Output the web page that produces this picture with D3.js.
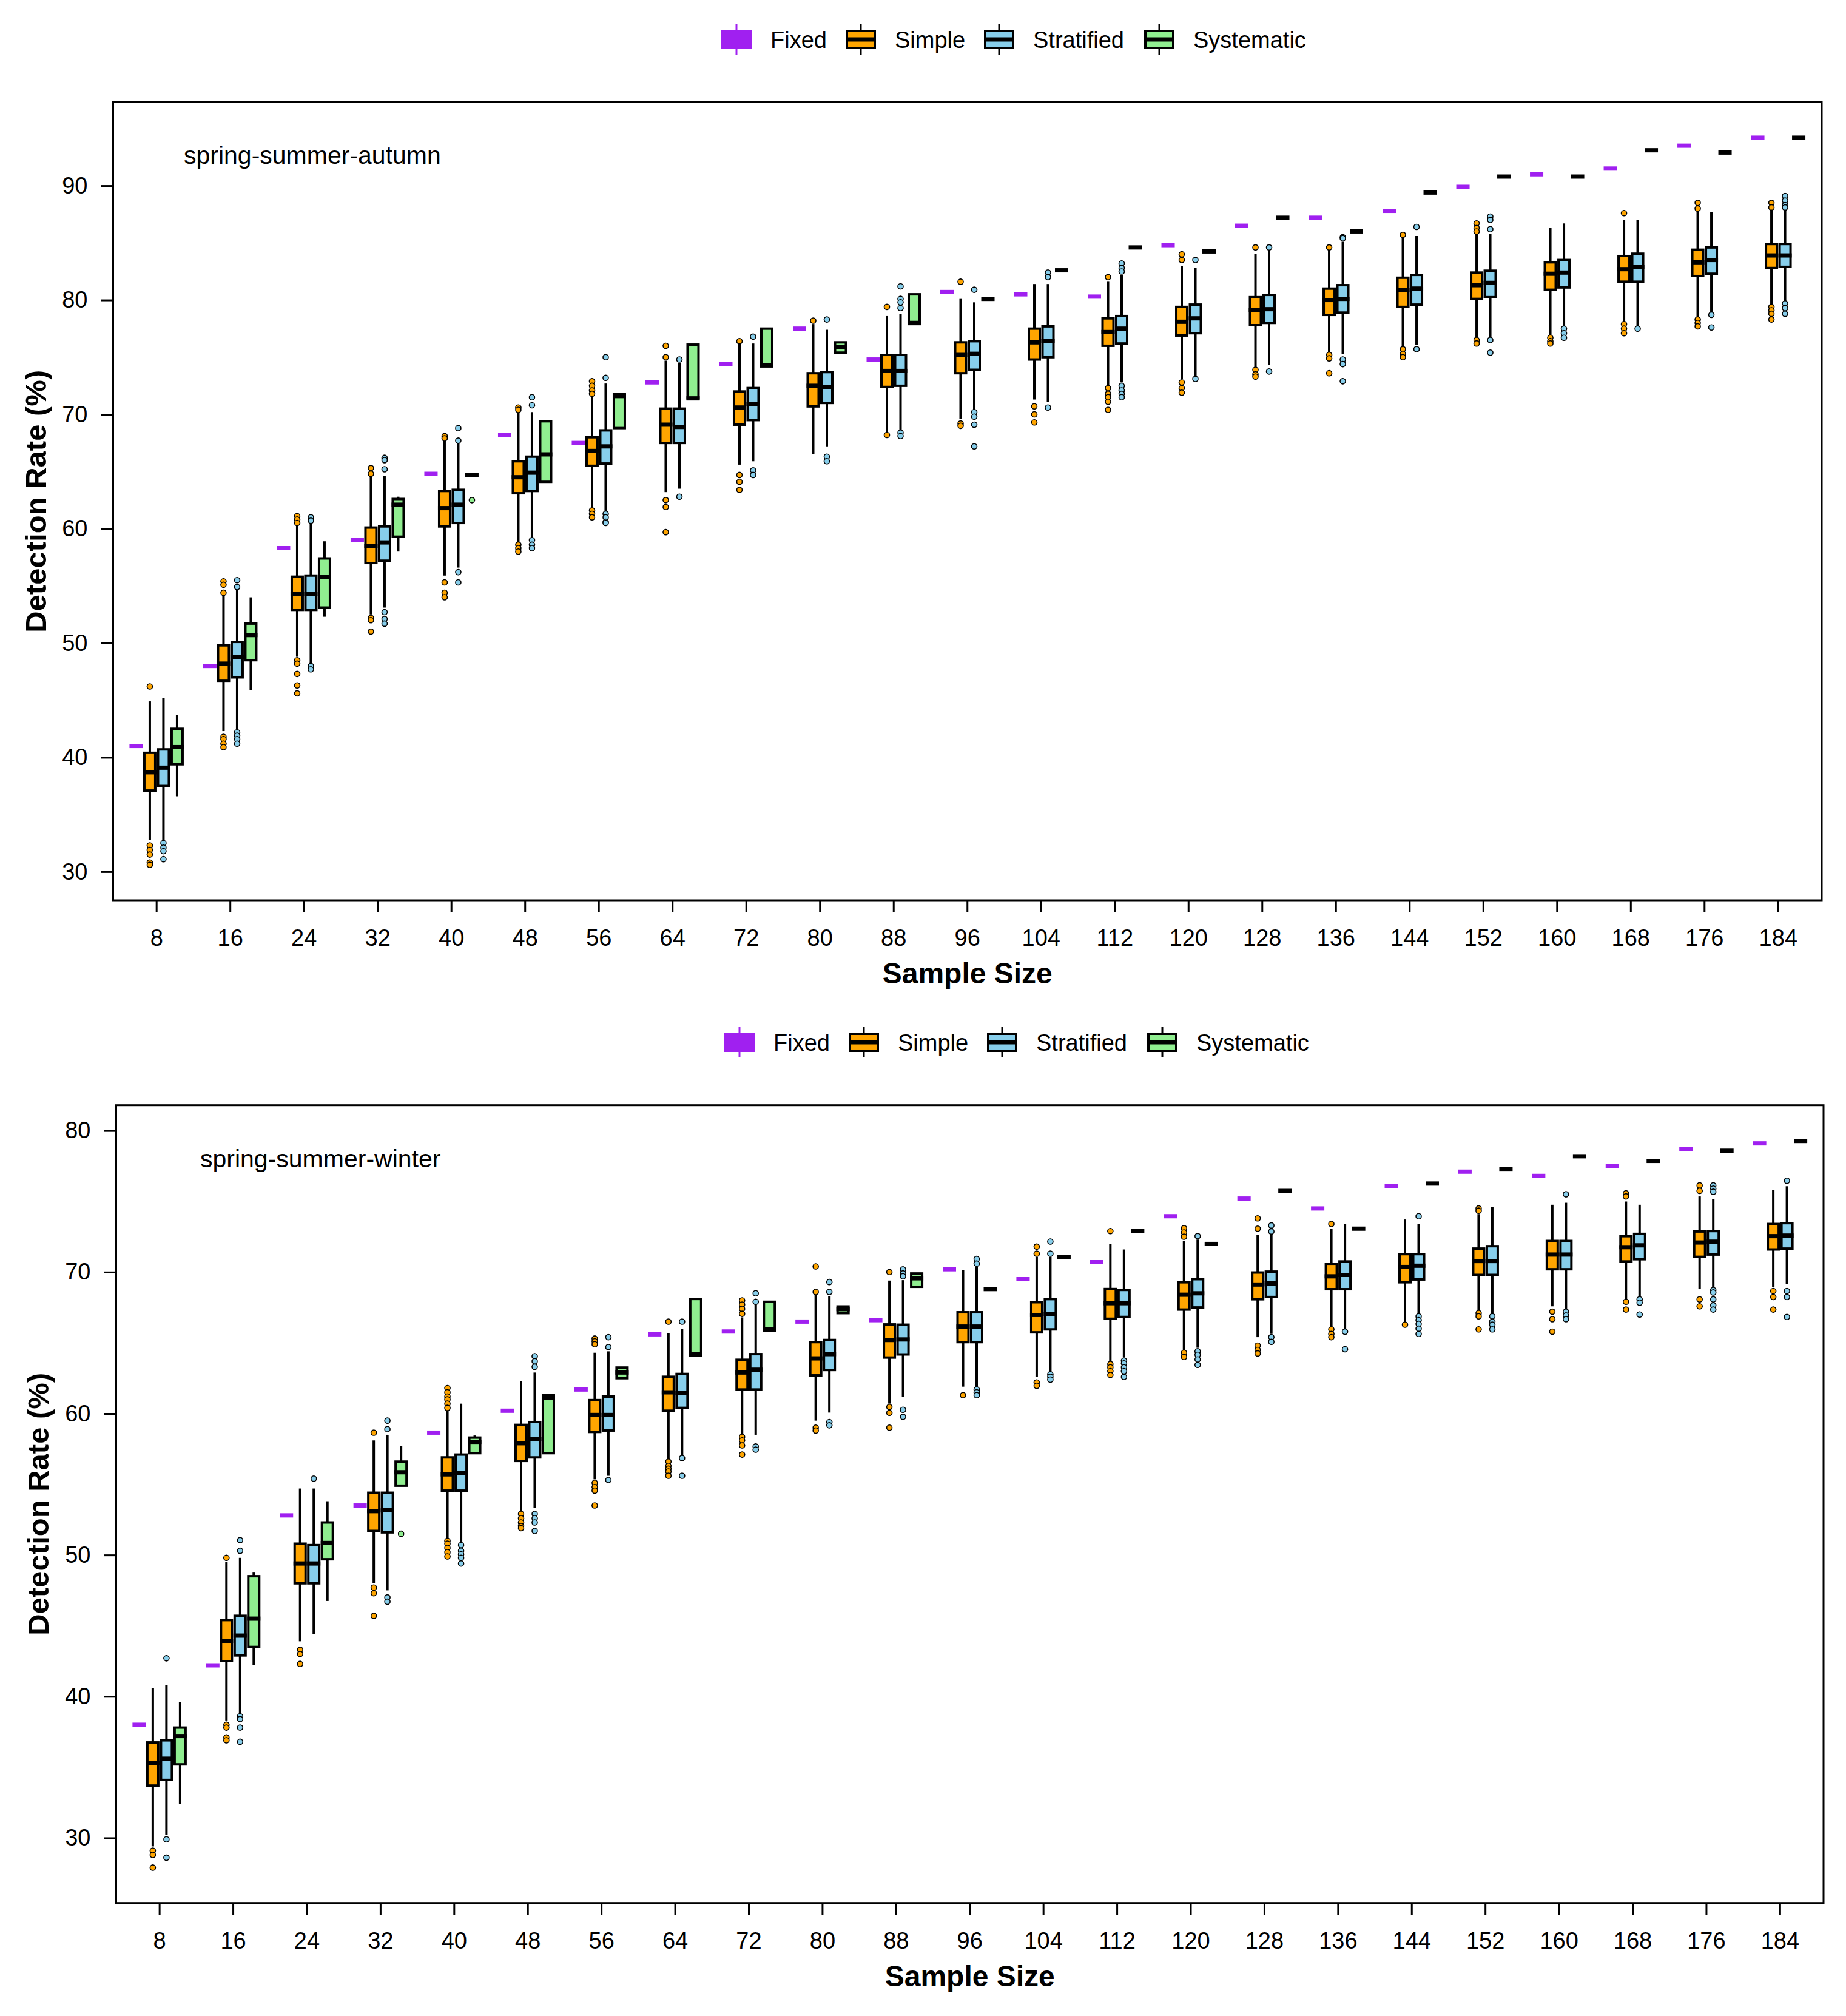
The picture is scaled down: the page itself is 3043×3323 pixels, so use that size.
<!DOCTYPE html>
<html>
<head>
<meta charset="utf-8">
<script src="https://cdn.jsdelivr.net/npm/d3@7"></script>
<style>
  html, body { margin: 0; padding: 0; background: #fff; }
  svg { display: block; font-family: "Liberation Sans", Arial, Helvetica, sans-serif; }
</style>
</head>
<body>
<svg id="chart" width="3043" height="3323"></svg>
<script>
'use strict';

// ---- categories ----
var sampleSizes = [8, 16, 24, 32, 40, 48, 56, 64, 72, 80, 88, 96, 104, 112, 120, 128, 136, 144, 152, 160, 168, 176, 184];
var methods = ['Fixed', 'Simple', 'Stratified', 'Systematic'];
var yTicksAutumn = [30, 40, 50, 60, 70, 80, 90];
var yTicksWinter = [30, 40, 50, 60, 70, 80];

// ---- spring-summer-autumn ----
var autumnFixed = [41.0, 48.0, 58.3, 59.0, 64.8, 68.2, 67.5, 72.8, 74.4, 77.5, 74.8, 80.7, 80.5, 80.3, 84.8, 86.5, 87.2, 87.8, 89.9, 91.0, 91.5, 93.5, 94.2];

// [lower whisker, q1, median, q3, upper whisker]
var autumnSimple = [
  [32.8, 37.1, 38.7, 40.4, 44.9], [42.3, 46.7, 48.2, 49.8, 54.2], [48.8, 52.9, 54.3, 55.8, 60.3],
  [52.5, 57.0, 58.5, 60.1, 64.6], [55.9, 60.2, 61.8, 63.3, 67.7], [58.8, 63.1, 64.5, 65.9, 70.2],
  [61.8, 65.5, 66.8, 68.0, 71.6], [63.2, 67.5, 69.1, 70.5, 74.7], [65.6, 69.1, 70.6, 72.0, 76.2],
  [66.5, 70.7, 72.5, 73.6, 77.9], [68.4, 72.4, 73.8, 75.2, 78.6], [69.6, 73.6, 75.2, 76.3, 80.1],
  [71.3, 74.8, 76.3, 77.5, 81.4], [72.5, 76.0, 77.2, 78.4, 81.6], [73.1, 76.9, 78.1, 79.4, 83.0],
  [74.1, 77.8, 79.1, 80.25, 84.05], [75.4, 78.7, 80.0, 81.0, 84.4], [75.9, 79.4, 80.9, 81.95, 85.4],
  [76.7, 80.1, 81.3, 82.4, 85.8], [76.9, 80.9, 82.3, 83.3, 86.3], [78.0, 81.6, 82.7, 83.85, 87.0],
  [78.5, 82.1, 83.3, 84.4, 87.8], [79.6, 82.8, 83.9, 84.9, 87.9]
];
var autumnSimpleOut = [
  [46.2, 32.3, 31.9, 31.5, 30.8, 30.6], [55.4, 55.1, 54.4, 41.8, 41.6, 41.2, 40.9], [61.1, 60.8, 60.5, 48.5, 48.2, 47.3, 46.3, 45.6],
  [65.3, 64.8, 52.2, 52.0, 51.0], [68.1, 67.9, 55.3, 54.4, 54.0], [70.6, 70.4, 58.6, 58.3, 58.0],
  [72.9, 72.5, 72.1, 71.8, 61.6, 61.3, 61.0], [76.0, 75.0, 62.5, 61.9, 59.7], [76.4, 64.7, 64.1, 63.4],
  [78.2], [79.4, 68.2], [81.6, 69.2, 69.0],
  [70.7, 70.0, 69.3], [82.0, 72.3, 71.8, 71.5, 71.1, 70.4], [84.0, 83.5, 72.8, 72.3, 71.9],
  [84.6, 73.9, 73.5, 73.3], [84.6, 75.2, 74.9, 73.6], [85.7, 75.7, 75.3, 75.0],
  [86.7, 86.3, 86.0, 76.5, 76.2], [76.7, 76.4, 76.2], [87.6, 77.9, 77.5, 77.1],
  [88.5, 88.0, 78.3, 78.0, 77.7], [88.5, 88.1, 79.4, 79.1, 78.8, 78.3]
];
var autumnStratified = [
  [32.8, 37.5, 39.1, 40.7, 45.2], [42.5, 47.0, 48.8, 50.1, 54.7], [48.2, 52.9, 54.3, 55.9, 60.4],
  [53.1, 57.2, 58.8, 60.2, 64.6], [56.6, 60.5, 62.1, 63.4, 67.5], [59.2, 63.3, 64.9, 66.3, 70.2],
  [61.5, 65.7, 67.2, 68.6, 72.7], [63.5, 67.5, 68.9, 70.5, 74.5], [65.9, 69.5, 70.9, 72.3, 76.2],
  [67.2, 71.0, 72.4, 73.7, 77.4], [68.6, 72.5, 73.8, 75.2, 78.8], [70.4, 73.9, 75.3, 76.4, 79.8],
  [71.1, 75.0, 76.4, 77.7, 81.4], [72.8, 76.2, 77.5, 78.6, 82.2], [73.3, 77.1, 78.4, 79.6, 82.8],
  [74.3, 78.0, 79.2, 80.45, 84.4], [75.3, 78.9, 80.1, 81.3, 85.1], [76.1, 79.6, 81.0, 82.2, 85.6],
  [76.7, 80.25, 81.5, 82.56, 85.8], [77.7, 81.1, 82.4, 83.5, 86.7], [77.6, 81.6, 82.9, 84.05, 87.0],
  [78.9, 82.3, 83.5, 84.6, 87.7], [79.8, 82.9, 83.9, 84.9, 87.9]
];
var autumnStratifiedOut = [
  [32.5, 32.1, 31.8, 31.1], [55.5, 54.9, 42.2, 41.9, 41.6, 41.2], [61.0, 60.7, 48.0, 47.7],
  [66.2, 66.0, 65.2, 52.7, 52.1, 51.7], [68.8, 67.7, 56.2, 55.3], [71.5, 70.8, 59.0, 58.6, 58.3],
  [75.0, 73.2, 61.3, 61.0, 60.6, 60.5], [74.8, 62.8], [76.8, 65.1, 64.7],
  [78.3, 66.3, 65.9], [81.2, 80.1, 79.8, 79.3, 68.4, 68.1], [80.9, 70.2, 69.8, 69.1, 67.2],
  [82.4, 82.0, 70.6], [83.2, 82.8, 82.5, 72.5, 72.1, 71.8, 71.5], [83.5, 73.1],
  [84.6, 73.75], [85.5, 85.4, 74.8, 74.4, 72.9], [86.4, 75.7],
  [87.3, 87.0, 86.2, 76.5, 75.4], [77.5, 77.1, 76.7], [77.5],
  [78.7, 77.6], [89.1, 88.7, 88.3, 88.1, 79.7, 79.3, 78.8]
];
var autumnSystematic = [
  [36.6, 39.4, 40.9, 42.5, 43.7], [45.9, 48.5, 50.7, 51.7, 54.0], [52.3, 53.1, 55.8, 57.4, 58.9],
  [58.0, 59.3, 62.1, 62.6, 62.8], [64.7, 64.7, 64.7, 64.7, 64.7], [64.1, 64.1, 66.5, 69.4, 69.4],
  [68.8, 68.8, 71.6, 71.8, 71.8], [71.4, 71.4, 71.4, 76.1, 76.1], [74.2, 74.2, 74.3, 77.5, 77.5],
  [75.4, 75.4, 75.9, 76.3, 76.3], [77.9, 77.9, 78.0, 80.5, 80.5], [80.1, 80.1, 80.1, 80.1, 80.1],
  [82.6, 82.6, 82.6, 82.6, 82.6], [84.6, 84.6, 84.6, 84.6, 84.6], [84.25, 84.25, 84.25, 84.25, 84.25],
  [87.2, 87.2, 87.2, 87.2, 87.2], [86.0, 86.0, 86.0, 86.0, 86.0], [89.4, 89.4, 89.4, 89.4, 89.4],
  [90.8, 90.8, 90.8, 90.8, 90.8], [90.8, 90.8, 90.8, 90.8, 90.8], [93.1, 93.1, 93.1, 93.1, 93.1],
  [92.9, 92.9, 92.9, 92.9, 92.9], [94.2, 94.2, 94.2, 94.2, 94.2]
];
var autumnSystematicOut = [[], [], [], [], [62.5], [], [], [], [], [], [], [], [], [], [], [], [], [], [], [], [], [], []];

// ---- spring-summer-winter ----
var winterFixed = [38.0, 42.2, 52.8, 53.5, 58.65, 60.2, 61.7, 65.6, 65.8, 66.5, 66.6, 70.2, 69.5, 70.7, 73.95, 75.2, 74.5, 76.1, 77.1, 76.8, 77.5, 78.7, 79.1];

var winterSimple = [
  [29.4, 33.7, 35.3, 36.75, 40.6], [38.3, 42.5, 43.9, 45.4, 49.5], [43.9, 48.0, 49.4, 50.8, 54.7],
  [48.0, 51.7, 53.1, 54.4, 58.1], [51.2, 54.55, 55.7, 56.9, 60.2], [53.05, 56.65, 57.9, 59.2, 62.3],
  [55.35, 58.7, 59.9, 60.95, 64.3], [56.7, 60.2, 61.5, 62.6, 65.7], [58.5, 61.7, 62.9, 63.8, 66.8],
  [59.5, 62.7, 63.9, 65.05, 68.4], [60.7, 63.96, 65.2, 66.3, 69.4], [61.9, 65.05, 66.15, 67.16, 70.16],
  [62.6, 65.74, 66.97, 67.87, 71.07], [63.7, 66.7, 67.8, 68.8, 71.97], [64.5, 67.35, 68.4, 69.28, 72.2],
  [65.4, 68.08, 69.12, 69.97, 72.64], [66.05, 68.79, 69.7, 70.59, 73.07], [66.44, 69.28, 70.36, 71.27, 73.72],
  [67.26, 69.8, 70.78, 71.66, 74.1], [67.58, 70.2, 71.24, 72.2, 74.76], [68.07, 70.75, 71.76, 72.54, 74.99],
  [68.79, 71.08, 72.09, 72.87, 75.35], [68.95, 71.6, 72.54, 73.4, 75.8]
];
var winterSimpleOut = [
  [29.1, 28.8, 27.9], [49.8, 38.0, 37.8, 37.1, 36.9], [43.3, 43.0, 42.3],
  [58.65, 47.7, 47.3, 45.7], [61.8, 61.5, 61.2, 61.0, 60.7, 60.4, 51.0, 50.8, 50.5, 50.2, 49.9], [52.9, 52.6, 52.3, 52.05, 51.9],
  [65.3, 65.1, 64.9, 55.1, 54.8, 54.55, 53.5], [66.5, 56.6, 56.3, 56.1, 55.9, 55.6], [68.0, 67.7, 67.4, 67.05, 58.35, 58.1, 57.75, 57.1],
  [70.4, 68.6, 59.0, 58.8], [70.0, 60.46, 60.05, 59.0], [61.3],
  [71.8, 71.3, 62.2, 61.96], [72.9, 63.5, 63.27, 63.0, 62.73], [73.1, 72.8, 72.5, 64.3, 64.0],
  [73.8, 73.07, 64.8, 64.5, 64.25], [73.4, 65.95, 65.63, 65.4], [66.28],
  [74.5, 74.34, 67.1, 66.87, 65.95], [67.2, 66.67, 65.79], [75.57, 75.35, 67.9, 67.35],
  [76.13, 75.74, 68.07, 67.58], [68.66, 68.24, 67.35]
];
var winterStratified = [
  [30.2, 34.1, 35.6, 36.9, 40.8], [38.7, 42.9, 44.3, 45.7, 49.8], [44.4, 48.0, 49.4, 50.7, 54.7],
  [47.5, 51.6, 53.2, 54.4, 58.5], [50.8, 54.55, 55.8, 57.1, 60.7], [53.35, 56.9, 58.2, 59.4, 62.9],
  [55.6, 58.8, 59.9, 61.2, 64.4], [57.0, 60.4, 61.44, 62.8, 66.0], [58.5, 61.7, 63.1, 64.2, 67.7],
  [60.07, 63.08, 64.2, 65.2, 68.3], [61.2, 64.18, 65.24, 66.28, 69.43], [61.85, 65.05, 66.15, 67.16, 70.38],
  [63.0, 65.95, 67.02, 68.09, 71.07], [63.96, 66.83, 67.8, 68.74, 71.6], [64.65, 67.5, 68.5, 69.5, 72.3],
  [65.63, 68.24, 69.2, 70.03, 72.64], [65.95, 68.79, 69.8, 70.75, 73.4], [67.0, 69.48, 70.45, 71.27, 73.4],
  [67.0, 69.8, 70.78, 71.83, 74.6], [67.42, 70.2, 71.24, 72.2, 74.9], [68.24, 70.91, 71.89, 72.7, 74.76],
  [68.95, 71.24, 72.15, 72.9, 75.15], [69.15, 71.66, 72.58, 73.46, 76.07]
];
var winterStratifiedOut = [
  [42.7, 29.9, 28.6], [51.05, 50.3, 38.6, 38.4, 37.8, 36.8], [55.4],
  [59.5, 58.9, 47.0, 46.7], [50.7, 50.3, 50.05, 49.8, 49.4], [64.05, 63.7, 63.3, 52.9, 52.6, 52.3, 51.7],
  [65.4, 64.7, 55.3], [66.5, 56.85, 55.6], [68.5, 67.9, 57.67, 57.45],
  [69.3, 68.6, 59.4, 59.17], [70.19, 69.9, 69.7, 60.27, 59.77], [70.93, 70.6, 61.7, 61.5, 61.3],
  [72.16, 71.3, 62.78, 62.6, 62.4], [63.74, 63.55, 63.27, 63.0, 62.59], [72.54, 64.4, 64.16, 63.83, 63.44],
  [73.3, 72.87, 65.4, 65.07], [65.79, 64.55], [73.95, 66.87, 66.6, 66.34, 66.0, 65.63],
  [66.87, 66.5, 66.28, 65.95], [75.5, 67.2, 66.93, 66.67], [68.07, 67.84, 67.0],
  [76.13, 75.9, 75.68, 68.73, 68.56, 68.07, 67.65, 67.35], [76.46, 68.66, 68.24, 66.83]
];
var winterSystematic = [
  [32.4, 35.2, 37.2, 37.8, 39.6], [42.2, 43.5, 45.5, 48.5, 48.8], [46.75, 49.7, 50.85, 52.3, 53.8],
  [54.9, 54.9, 55.85, 56.6, 57.7], [57.2, 57.2, 58.0, 58.3, 58.45], [57.2, 57.2, 61.1, 61.3, 61.3],
  [62.5, 62.5, 62.9, 63.25, 63.25], [64.1, 64.1, 64.2, 68.1, 68.1], [65.87, 65.87, 65.95, 67.9, 67.9],
  [67.1, 67.1, 67.38, 67.57, 67.57], [68.96, 68.96, 69.56, 69.9, 69.9], [68.8, 68.8, 68.8, 68.8, 68.8],
  [71.07, 71.07, 71.07, 71.07, 71.07], [72.9, 72.9, 72.9, 72.9, 72.9], [71.99, 71.99, 71.99, 71.99, 71.99],
  [75.74, 75.74, 75.74, 75.74, 75.74], [73.07, 73.07, 73.07, 73.07, 73.07], [76.26, 76.26, 76.26, 76.26, 76.26],
  [77.3, 77.3, 77.3, 77.3, 77.3], [78.19, 78.19, 78.19, 78.19, 78.19], [77.86, 77.86, 77.86, 77.86, 77.86],
  [78.58, 78.58, 78.58, 78.58, 78.58], [79.27, 79.27, 79.27, 79.27, 79.27]
];
var winterSystematicOut = [[], [], [], [51.5], [], [], [], [], [], [], [], [], [], [], [], [], [], [], [], [], [], [], []];

var fillColor = { Fixed: '#a020f0', Simple: '#ffa500', Stratified: '#87ceeb', Systematic: '#90ee90' };
var lineColor = { Fixed: '#a020f0', Simple: '#000', Stratified: '#000', Systematic: '#000' };

var svg = d3.select('#chart');

var panels = [
  {
    label: 'spring-summer-autumn', labelX: 303, labelY: 270,
    legendX: 1189, legendY: 65,
    left: 186.5, right: 3003, top: 168.5, bottom: 1484,
    yDomain: [27.5, 97.3], yTicks: yTicksAutumn, yTitleX: 76,
    fixed: autumnFixed,
    boxes: { Simple: autumnSimple, Stratified: autumnStratified, Systematic: autumnSystematic },
    outs: { Simple: autumnSimpleOut, Stratified: autumnStratifiedOut, Systematic: autumnSystematicOut }
  },
  {
    label: 'spring-summer-winter', labelX: 330, labelY: 1924,
    legendX: 1194, legendY: 1718,
    left: 191.5, right: 3006, top: 1821.7, bottom: 3136.7,
    yDomain: [25.4, 81.8], yTicks: yTicksWinter, yTitleX: 80,
    fixed: winterFixed,
    boxes: { Simple: winterSimple, Stratified: winterStratified, Systematic: winterSystematic },
    outs: { Simple: winterSimpleOut, Stratified: winterStratifiedOut, Systematic: winterSystematicOut }
  }
];

// key offsets in the legend row, as laid out in the original figure
var legendOffsets = [0, 205, 433, 697];

function drawLegend(x0, yc) {
  var g = svg.append('g').attr('class', 'legend');
  methods.forEach(function (m, i) {
    var cx = x0 + legendOffsets[i];
    var key = g.append('g').attr('transform', 'translate(' + cx + ',' + yc + ')');
    key.append('line').attr('x1', 25).attr('x2', 25).attr('y1', -25).attr('y2', 25)
      .attr('stroke', lineColor[m]).attr('stroke-width', 3);
    key.append('rect').attr('x', 2).attr('y', -14).attr('width', 46).attr('height', 28)
      .attr('fill', fillColor[m]).attr('stroke', lineColor[m]).attr('stroke-width', 4);
    key.append('line').attr('x1', 2).attr('x2', 48).attr('y1', 0).attr('y2', 0)
      .attr('stroke', lineColor[m]).attr('stroke-width', 7);
    g.append('text').attr('x', cx + 81).attr('y', yc + 14)
      .attr('font-size', 38).attr('fill', '#000').text(m);
  });
}

function drawPanel(p) {
  var g = svg.append('g');

  var x = d3.scaleBand().domain(sampleSizes).range([p.left, p.right])
    .paddingInner(0).paddingOuter(0.09);
  var inner = d3.scaleBand().domain(methods).range([-45, 45]);
  var y = d3.scaleLinear().domain(p.yDomain).range([p.bottom, p.top]);
  var boxW = 18;

  // axes
  var xAxis = g.append('g').attr('transform', 'translate(0,' + p.bottom + ')')
    .call(d3.axisBottom(x).tickSize(20).tickPadding(28));
  var yAxis = g.append('g').attr('transform', 'translate(' + p.left + ',0)')
    .call(d3.axisLeft(y).tickValues(p.yTicks).tickSize(20).tickPadding(22).tickFormat(d3.format('d')));
  [xAxis, yAxis].forEach(function (a) {
    a.select('.domain').remove();
    a.attr('font-size', 38).attr('font-family', null);
    a.selectAll('.tick line').attr('stroke', '#000').attr('stroke-width', 3);
    a.selectAll('.tick text').attr('fill', '#000');
  });

  // flatten stats
  var records = [];
  sampleSizes.forEach(function (s, i) {
    var v = p.fixed[i];
    records.push({ size: s, method: 'Fixed', stats: [v, v, v, v, v], out: [] });
    ['Simple', 'Stratified', 'Systematic'].forEach(function (m) {
      records.push({ size: s, method: m, stats: p.boxes[m][i], out: p.outs[m][i] });
    });
  });

  var box = g.append('g').selectAll('g.box').data(records).enter().append('g')
    .attr('class', 'box')
    .attr('transform', function (d) {
      return 'translate(' + (x(d.size) + x.bandwidth() / 2 + inner(d.method) + inner.bandwidth() / 2) + ',0)';
    });

  // whiskers
  box.append('line').attr('x1', 0).attr('x2', 0)
    .attr('y1', function (d) { return y(d.stats[3]); })
    .attr('y2', function (d) { return y(d.stats[4]); })
    .attr('stroke', function (d) { return lineColor[d.method]; }).attr('stroke-width', 4);
  box.append('line').attr('x1', 0).attr('x2', 0)
    .attr('y1', function (d) { return y(d.stats[1]); })
    .attr('y2', function (d) { return y(d.stats[0]); })
    .attr('stroke', function (d) { return lineColor[d.method]; }).attr('stroke-width', 4);

  // box
  box.append('rect')
    .attr('x', -boxW / 2)
    .attr('y', function (d) { return y(d.stats[3]); })
    .attr('width', boxW)
    .attr('height', function (d) { return y(d.stats[1]) - y(d.stats[3]); })
    .attr('fill', function (d) { return fillColor[d.method]; })
    .attr('stroke', function (d) { return lineColor[d.method]; })
    .attr('stroke-width', 4);

  // median
  box.append('line')
    .attr('x1', -boxW / 2 - 2).attr('x2', boxW / 2 + 2)
    .attr('y1', function (d) { return y(d.stats[2]); })
    .attr('y2', function (d) { return y(d.stats[2]); })
    .attr('stroke', function (d) { return lineColor[d.method]; })
    .attr('stroke-width', 7);

  // outliers
  box.selectAll('circle').data(function (d) {
    return d.out.map(function (v) { return { v: v, method: d.method }; });
  }).enter().append('circle')
    .attr('cx', 0).attr('cy', function (d) { return y(d.v); })
    .attr('r', 4.5)
    .attr('fill', function (d) { return fillColor[d.method]; })
    .attr('stroke', '#000').attr('stroke-width', 1.6);

  // frame
  g.append('rect').attr('x', p.left).attr('y', p.top)
    .attr('width', p.right - p.left).attr('height', p.bottom - p.top)
    .attr('fill', 'none').attr('stroke', '#000').attr('stroke-width', 3);

  // labels
  g.append('text').attr('x', p.labelX).attr('y', p.labelY)
    .attr('font-size', 41).attr('fill', '#000').text(p.label);

  g.append('text')
    .attr('x', (p.left + p.right) / 2).attr('y', p.bottom + 137)
    .attr('text-anchor', 'middle').attr('font-size', 48).attr('font-weight', 'bold')
    .attr('fill', '#000').text('Sample Size');

  g.append('text')
    .attr('transform', 'translate(' + p.yTitleX + ',' + ((p.top + p.bottom) / 2) + ') rotate(-90)')
    .attr('text-anchor', 'middle').attr('font-size', 49).attr('font-weight', 'bold')
    .attr('fill', '#000').text('Detection Rate (%)');

  drawLegend(p.legendX, p.legendY);
}

panels.forEach(drawPanel);
</script>
</body>
</html>
